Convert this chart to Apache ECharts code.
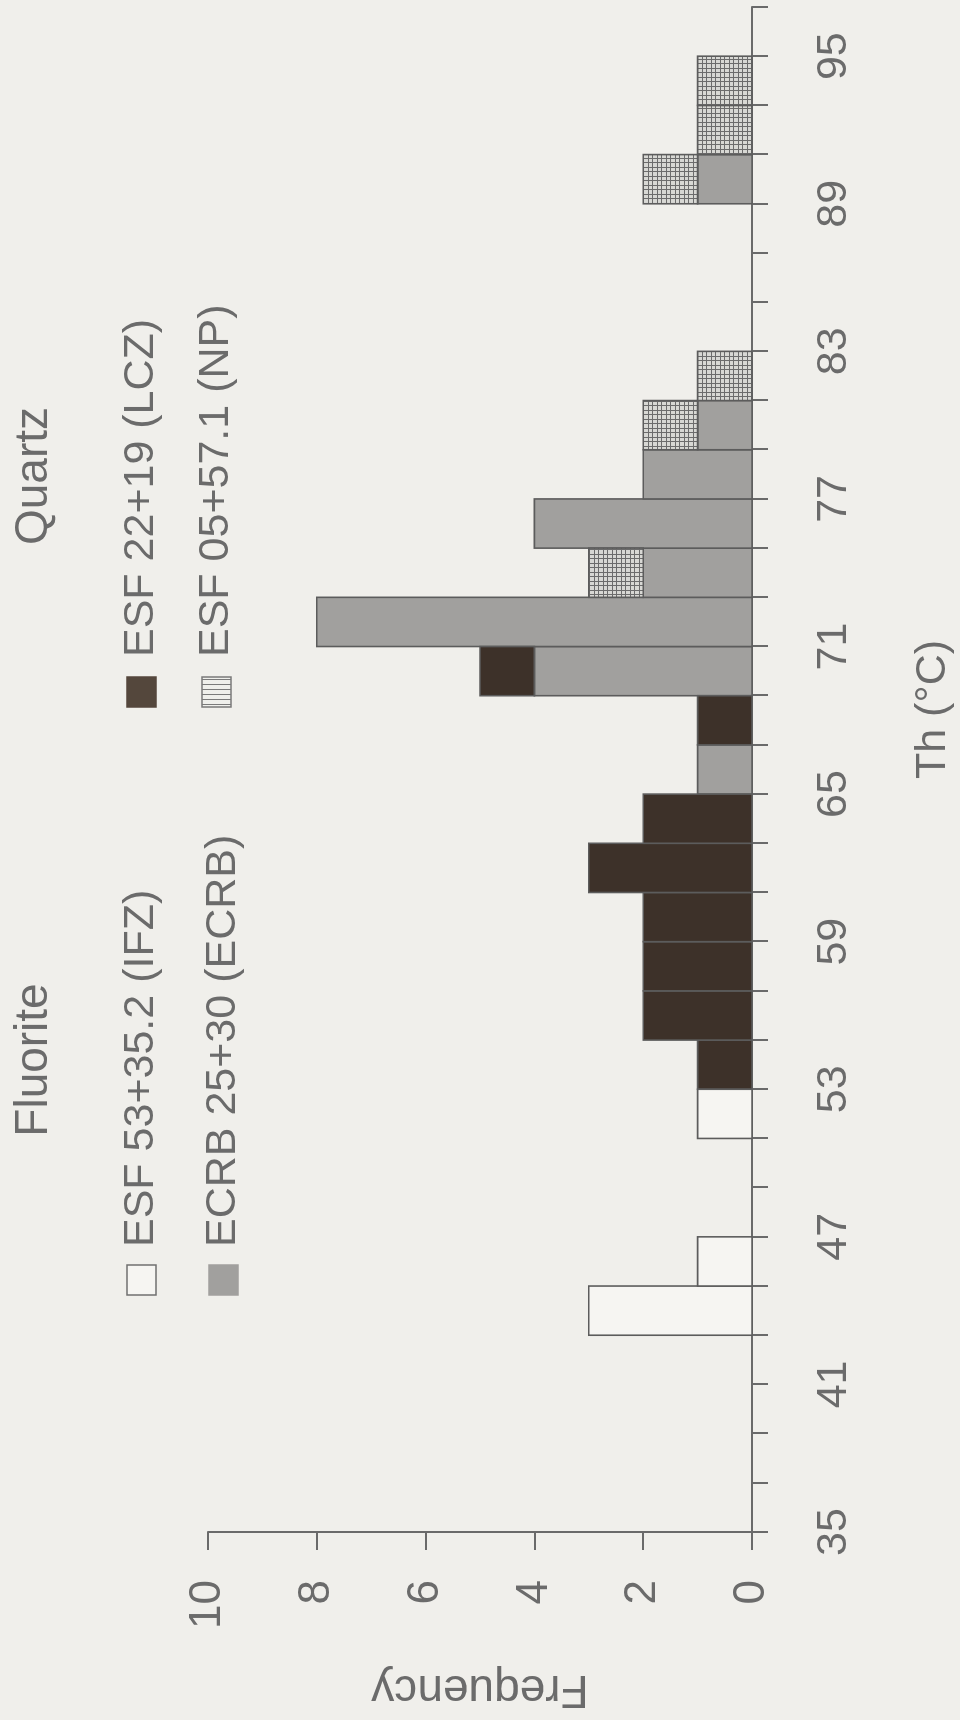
<!DOCTYPE html>
<html>
<head>
<meta charset="utf-8">
<script src="https://cdn.jsdelivr.net/npm/echarts@6/dist/echarts.min.js"></script>
<style>
  html, body { margin: 0; padding: 0; background: #f0efeb; }
  body { width: 960px; height: 1720px; position: relative; overflow: hidden; }
  #chart { position: absolute; left: 0; top: 0; width: 1720px; height: 960px;
           transform-origin: 0 0; transform: translateY(1720px) rotate(-90deg); }
</style>
</head>
<body>
<div id="chart"></div>
<script>
// ---- data ----
const binStarts = [35,37,39,41,43,45,47,49,51,53,55,57,59,61,63,65,67,69,71,73,75,77,79,81,83,85,87,89,91,93];
const binWidth = 2;
// Quartz ECRB 25+30 (ECRB) - grey
const ecrb = [0,0,0,0,0,0,0,0,0,0,0,0,0,0,0,1,0,4,8,2,4,2,1,0,0,0,0,1,0,0];
// Quartz ESF 22+19 (LCZ) - black
const lcz  = [0,0,0,0,0,0,0,0,0,1,2,2,2,3,2,0,1,1,0,0,0,0,0,0,0,0,0,0,0,0];
// Quartz ESF 05+57.1 (NP) - hatched
const np   = [0,0,0,0,0,0,0,0,0,0,0,0,0,0,0,0,0,0,0,1,0,0,1,1,0,0,0,1,1,1];
// Fluorite ESF 53+35.2 (IFZ) - white
const ifz  = [0,0,0,0,3,1,0,0,1,0,0,0,0,0,0,0,0,0,0,0,0,0,0,0,0,0,0,0,0,0];
const thTicksLabelled = [35,41,47,53,59,65,71,77,83,89,95];
const freqTicks = [0,2,4,6,8,10];

const FONT = "'Liberation Sans', Arial, Helvetica, sans-serif";
const TXT = '#6b6b6b';
const AX = '#6a6a6a';
const EDGE = '#5c5c5c';

function makeGrid(size, lineCol, bg, both) {
  const c = document.createElement('canvas');
  c.width = size; c.height = size;
  const g = c.getContext('2d');
  g.fillStyle = bg; g.fillRect(0,0,size,size);
  g.fillStyle = lineCol;
  g.fillRect(0,0,1,size); g.fillRect(Math.floor(size/2),0,1,size);
  if (both) { g.fillRect(0,0,size,1); g.fillRect(0,Math.floor(size/2),size,1); }
  return c;
}
const hatchBar = { image: makeGrid(9, '#6c6c6c', '#d8d8d4', true), repeat: 'repeat' };
const hatchIcon = { image: makeGrid(10, '#7a7a7a', '#efefeb', false), repeat: 'repeat' };

const seriesDefs = [
  { name: 'ECRB 25+30 (ECRB)', vals: ecrb, fill: '#a1a09e' },
  { name: 'ESF 22+19 (LCZ)', vals: lcz, fill: '#3d3129' },
  { name: 'ESF 05+57.1 (NP)', vals: np, fill: hatchBar },
  { name: 'ESF 53+35.2 (IFZ)', vals: ifz, fill: '#f6f5f2' }
];

const base = binStarts.map(() => 0);
const series = seriesDefs.map(def => {
  const data = [];
  binStarts.forEach((s, i) => {
    if (def.vals[i] > 0) data.push([s, def.vals[i], base[i]]);
    base[i] += def.vals[i];
  });
  return {
    type: 'custom', name: def.name, data: data,
    encode: { x: 0, y: 1 },
    renderItem: function (params, api) {
      const s = api.value(0), v = api.value(1), b = api.value(2);
      const p0 = api.coord([s, b]);
      const p1 = api.coord([s + binWidth, b + v]);
      return {
        type: 'rect',
        shape: { x: p0[0], y: p1[1], width: p1[0] - p0[0], height: p0[1] - p1[1] },
        style: { fill: def.fill, stroke: EDGE, lineWidth: 1.6 }
      };
    }
  };
});

const chart = echarts.init(document.getElementById('chart'), null, { renderer: 'canvas', width: 1720, height: 960 });

function legendItem(u, v, label, fill, stroke, textStart) {
  return [
    { type: 'rect', shape: { x: u, y: v - 14, width: 30, height: 29 },
      style: { fill: fill, stroke: stroke, lineWidth: 1.5 } },
    { type: 'text', x: textStart, y: v,
      style: { text: label, fontSize: 43, fontFamily: FONT, fill: TXT, align: 'left', verticalAlign: 'middle' } }
  ];
}

const graphics = [].concat(
  [{ type: 'text', x: 660, y: 34, style: { text: 'Fluorite', fontSize: 46, fontFamily: FONT, fill: TXT, align: 'center', verticalAlign: 'middle' } },
   { type: 'text', x: 1244, y: 34, style: { text: 'Quartz', fontSize: 46, fontFamily: FONT, fill: TXT, align: 'center', verticalAlign: 'middle' } }],
  legendItem(425, 141, 'ESF 53+35.2 (IFZ)', '#f6f5f2', '#707070', 473),
  legendItem(425, 223, 'ECRB 25+30 (ECRB)', '#a1a09e', '#a1a09e', 473),
  legendItem(1013, 141, 'ESF 22+19 (LCZ)', '#54473c', '#54473c', 1063),
  legendItem(1013, 216, 'ESF 05+57.1 (NP)', hatchIcon, '#7a7a7a', 1063)
);

chart.setOption({
  backgroundColor: '#f0efeb',
  animation: false,
  grid: { left: 176, right: 7, top: 208, bottom: 208 },
  xAxis: {
    type: 'value', min: 35, max: 97, interval: 2,
    name: 'Th (°C)', nameLocation: 'middle', nameGap: 160,
    nameTextStyle: { fontSize: 43, fontFamily: FONT, color: TXT, padding: [0, 0, 0, 120] },
    axisLine: { show: true, lineStyle: { color: AX, width: 2 } },
    axisTick: { show: true, length: 16, lineStyle: { color: AX, width: 2 } },
    axisLabel: {
      margin: 61, fontSize: 43, fontFamily: FONT, color: TXT,
      formatter: v => thTicksLabelled.indexOf(v) >= 0 ? String(v) : ''
    },
    splitLine: { show: false }
  },
  yAxis: {
    type: 'value', min: freqTicks[0], max: freqTicks[freqTicks.length - 1], interval: 2,
    name: 'Frequency', nameLocation: 'middle', nameGap: 134,
    nameTextStyle: { fontSize: 46, fontFamily: FONT, color: TXT },
    axisLine: { show: true, lineStyle: { color: AX, width: 2 } },
    axisTick: { show: true, length: 18, lineStyle: { color: AX, width: 2 } },
    axisLabel: { margin: 48, fontSize: 44, fontFamily: FONT, color: TXT },
    splitLine: { show: false }
  },
  graphic: graphics,
  series: series
});
</script>
</body>
</html>
